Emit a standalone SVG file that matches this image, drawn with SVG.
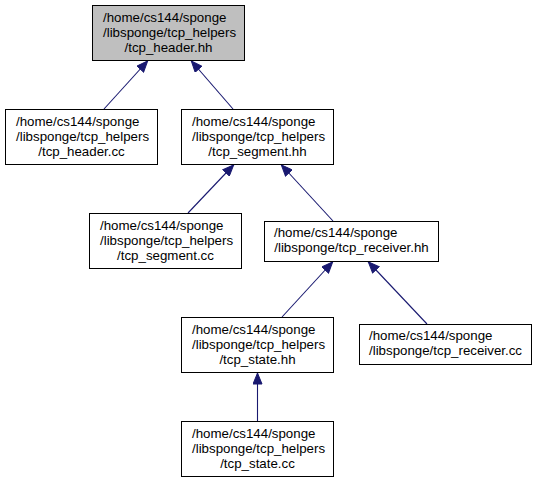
<svg xmlns="http://www.w3.org/2000/svg" width="536" height="483" viewBox="0 0 536 483">
<defs>
<style>
.box{fill:#ffffff;stroke:#000000;stroke-width:1}
.root{fill:#bfbfbf}
text{font-family:"Liberation Sans",Arial,sans-serif;font-size:13.3px;fill:#000000}
.c{text-anchor:middle}
.edge{stroke:#191970;stroke-width:1.1;fill:none;marker-end:url(#ah)}
</style>
<marker id="ah" viewBox="0 0 12 10" refX="12" refY="5" markerWidth="12" markerHeight="10" markerUnits="userSpaceOnUse" orient="auto">
<path d="M0.5,0.5 L11.5,5 L0.5,9.5 z" fill="#191970" stroke="#191970" stroke-width="1"/>
</marker>
</defs>
<rect width="536" height="483" fill="#ffffff"/>
<g id="connectors">
<line class="edge" x1="104" y1="109" x2="148" y2="60.5"/>
<line class="edge" x1="233" y1="109" x2="191" y2="60.5"/>
<line class="edge" x1="188" y1="213" x2="234" y2="164.5"/>
<line class="edge" x1="333" y1="221" x2="281" y2="164.5"/>
<line class="edge" x1="282" y1="317" x2="333" y2="261.5"/>
<line class="edge" x1="427" y1="324" x2="368" y2="261.5"/>
<line class="edge" x1="257.5" y1="421" x2="257.5" y2="372.5"/>
</g>
<g id="tcp_header_hh">
<rect class="box root" x="92.5" y="5.5" width="152" height="55"/>
<text x="103" y="21.5">/home/cs144/sponge</text>
<text x="103" y="36.5">/libsponge/tcp_helpers</text>
<text class="c" x="168.5" y="51.5">/tcp_header.hh</text>
</g>
<g id="tcp_header_cc">
<rect class="box" x="5.5" y="109.5" width="152" height="55"/>
<text x="16" y="125.5">/home/cs144/sponge</text>
<text x="16" y="140.5">/libsponge/tcp_helpers</text>
<text class="c" x="81.5" y="155.5">/tcp_header.cc</text>
</g>
<g id="tcp_segment_hh">
<rect class="box" x="181.5" y="109.5" width="152" height="55"/>
<text x="192" y="125.5">/home/cs144/sponge</text>
<text x="192" y="140.5">/libsponge/tcp_helpers</text>
<text class="c" x="257.5" y="155.5">/tcp_segment.hh</text>
</g>
<g id="tcp_segment_cc">
<rect class="box" x="89.5" y="213.5" width="152" height="55"/>
<text x="100" y="229.5">/home/cs144/sponge</text>
<text x="100" y="244.5">/libsponge/tcp_helpers</text>
<text class="c" x="165.5" y="259.5">/tcp_segment.cc</text>
</g>
<g id="tcp_receiver_hh">
<rect class="box" x="264.5" y="221.5" width="174" height="40"/>
<text x="274" y="237">/home/cs144/sponge</text>
<text class="c" x="351.5" y="252">/libsponge/tcp_receiver.hh</text>
</g>
<g id="tcp_state_hh">
<rect class="box" x="181.5" y="317.5" width="152" height="55"/>
<text x="192" y="333.5">/home/cs144/sponge</text>
<text x="192" y="348.5">/libsponge/tcp_helpers</text>
<text class="c" x="257.5" y="363.5">/tcp_state.hh</text>
</g>
<g id="tcp_receiver_cc">
<rect class="box" x="359.5" y="324.5" width="172" height="40"/>
<text x="369" y="340">/home/cs144/sponge</text>
<text class="c" x="445.5" y="355">/libsponge/tcp_receiver.cc</text>
</g>
<g id="tcp_state_cc">
<rect class="box" x="181.5" y="421.5" width="152" height="55"/>
<text x="192" y="437.5">/home/cs144/sponge</text>
<text x="192" y="452.5">/libsponge/tcp_helpers</text>
<text class="c" x="257.5" y="467.5">/tcp_state.cc</text>
</g>
</svg>
